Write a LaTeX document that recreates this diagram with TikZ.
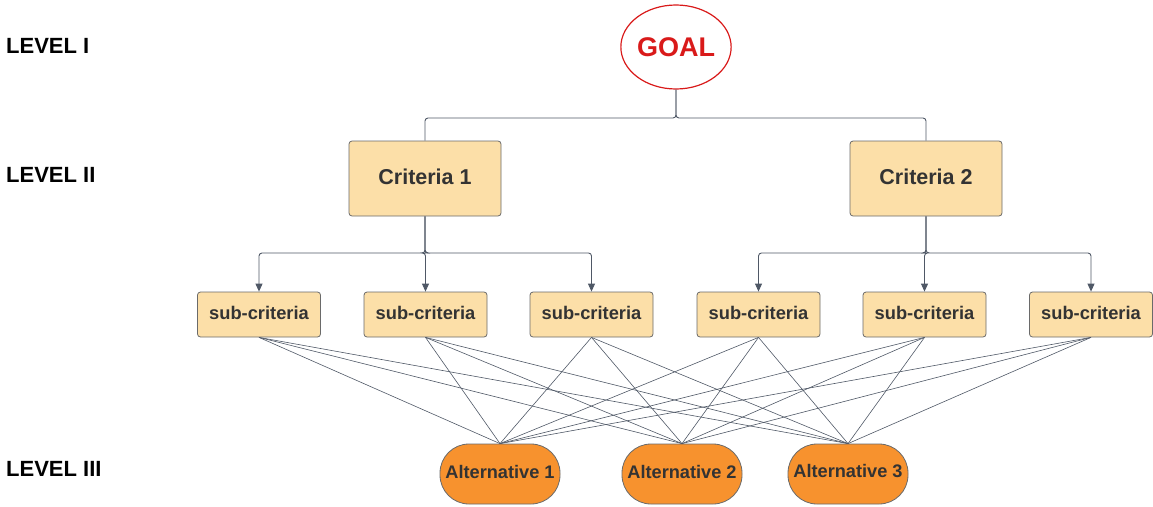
\documentclass[tikz,border=0pt]{standalone}
\usepackage{fontspec}
\setmainfont{Liberation Sans}
\usetikzlibrary{shapes.geometric,arrows.meta}
\definecolor{boxfill}{HTML}{FCDFA8}
\definecolor{boxline}{HTML}{6A6A6A}
\definecolor{altfill}{HTML}{F7922E}
\definecolor{wire}{HTML}{4F5866}
\definecolor{txt}{HTML}{333333}
\definecolor{goalred}{HTML}{D91A1A}
\begin{document}
\begin{tikzpicture}[x=1pt,y=-1pt,
  crit/.style={draw=boxline,line width=0.8pt,fill=boxfill,rounded corners=3pt,minimum width=152pt,minimum height=75pt,
    font=\fontsize{21.5}{24}\selectfont\bfseries,text=txt,inner sep=0pt},
  sub/.style={draw=boxline,line width=0.8pt,fill=boxfill,rounded corners=3pt,minimum width=123pt,minimum height=45pt,
    font=\fontsize{18.3}{21}\selectfont\bfseries,text=txt,inner sep=0pt},
  alt/.style={draw=boxline,line width=0.8pt,fill=altfill,rounded corners=29pt,minimum width=120pt,minimum height=60pt,
    font=\fontsize{18.2}{21}\selectfont\bfseries,text=txt,inner sep=0pt},
  lvl/.style={anchor=west,font=\fontsize{22}{25}\selectfont\bfseries,text=black,inner sep=0pt},
  lift/.style={label={[text=txt,font=#1]center:}},
  tree/.style={draw=wire,line width=0.9pt,rounded corners=3pt},
  wireline/.style={draw=wire,line width=0.6pt}]
\useasboundingbox (0,0) rectangle (1153,506);

% level labels
\node[lvl] (l1) at (6,46) {LEVEL I};
\node[lvl] (l2) at (6,175) {LEVEL II};
\node[lvl] (l3) at (6,469) {LEVEL III};

% goal
\node[ellipse,draw=goalred,line width=1.2pt,fill=white,minimum width=107pt,minimum height=84pt,
  font=\fontsize{27}{30}\selectfont\bfseries,text=goalred,inner sep=0pt] (goal) at (676,47) {GOAL};

% criteria (text sits a little above the box centre)
\node[crit,draw=boxline] (c1) at (425,178.5) {};
\node[crit,draw=none,fill=none] (c1t) at (425,176.5) {Criteria 1};
\node[crit] (c2) at (926,178.5) {};
\node[crit,draw=none,fill=none] (c2t) at (926,176.5) {Criteria 2};

% sub-criteria
\foreach \n/\x in {s1/259,s2/425.5,s3/591.5,s4/758.5,s5/924.5,s6/1091}{
  \node[sub] (\n) at (\x,314.5) {};
  \node[sub,draw=none,fill=none] (\n t) at (\x,312.5) {sub-criteria};
}

% alternatives
\foreach \n/\x/\k in {a1/500/1,a2/682/2,a3/848/3}{
  \node[alt] (\n) at (\x,474) {};
  \node[alt,draw=none,fill=none] (\n t) at (\x,471.5) {Alternative \k};
}

% goal to criteria
\draw[tree] (goal.south) |- (c1.north |- 0,118) -- (c1.north);
\draw[tree] (goal.south) |- (c2.north |- 0,118) -- (c2.north);

% criteria to sub-criteria
\foreach \s in {s1,s2,s3}
  \draw[tree,-{Triangle[length=8pt,width=7pt]}] (c1.south) |- (\s.north |- 0,253) -- (\s.north);
\foreach \s in {s4,s5,s6}
  \draw[tree,-{Triangle[length=8pt,width=7pt]}] (c2.south) |- (\s.north |- 0,253) -- (\s.north);

% sub-criteria to alternatives
\foreach \s in {s1,s2,s3,s4,s5,s6}
  \foreach \a in {a1,a2,a3}
    \draw[wireline] (\s.south) -- (\a.north);
\end{tikzpicture}
\end{document}
